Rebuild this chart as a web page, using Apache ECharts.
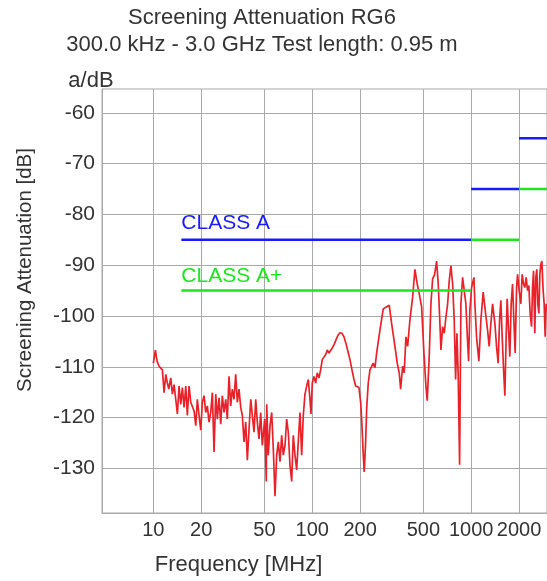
<!DOCTYPE html>
<html>
<head>
<meta charset="utf-8">
<title>Screening Attenuation RG6</title>
<script src="https://cdn.jsdelivr.net/npm/echarts@6/dist/echarts.min.js"></script>
<style>
  html, body { margin: 0; padding: 0; background: #fff; }
  #chart { width: 547px; height: 581px; }
</style>
</head>
<body>
<div id="chart"></div>
<script>
const freqMHz = [
  10.0, 10.3, 10.55, 10.86, 11.13, 11.39, 11.68, 11.97, 12.25, 12.5, 12.86, 13.17, 13.5, 13.83, 14.16, 14.51, 14.87, 15.22, 15.6, 15.99, 16.36, 16.77, 17.19, 17.59, 18.03, 18.48, 18.91, 19.39, 19.87, 20.33, 20.84, 21.36, 21.86, 22.4, 22.96, 23.5, 24.09, 24.69, 25.26, 25.9, 26.54, 27.16, 27.84, 28.53, 29.2, 29.93, 30.67, 31.39, 32.17, 32.97, 33.75, 34.59, 35.46, 36.29, 37.19, 38.12, 39.02, 40.0, 41.0, 41.95, 43.0, 44.06, 45.1, 46.22, 47.36, 48.47, 50.18, 51.36,
  51.67, 52.88, 54.2, 55.55, 56.84, 58.26, 59.72, 61.12, 62.65, 64.2, 65.71, 67.35, 69.02, 70.65, 72.39, 74.2, 75.94, 77.84, 79.77, 81.64, 83.68, 85.77, 87.78, 89.96, 92.22, 94.37, 96.72, 98.13, 100.0, 102.5, 105.0, 107.5, 110.2, 112.9, 115.6, 118.5, 121.4, 124.3, 127.4, 130.6, 133.6, 136.9, 141.0, 145.1, 149.4, 153.8, 158.3, 162.9, 167.7, 172.7, 177.7, 183.0, 187.5, 191.9, 196.7, 201.6, 205.4, 209.4, 212.3, 216.7, 219.9, 225.0, 230.7,
  236.4, 241.9, 248.0, 254.1, 266.6, 279.6, 293.7, 305.0, 315.8, 331.3, 342.5, 352.6, 359.8, 370.4, 379.0, 388.5, 398.1, 411.6, 428.1, 442.5, 457.5, 471.0, 487.7, 504.2, 519.0, 528.9, 544.4, 558.0, 571.9, 588.8, 606.1, 620.4, 635.8, 645.1, 661.2, 676.7, 693.6, 710.9, 727.5, 745.6, 764.2, 782.1, 798.1, 813.3, 828.7, 845.6, 861.7, 883.2, 903.6, 926.2, 943.7, 963.0, 981.3, 1006, 1040,
  1055, 1081, 1118, 1151, 1190, 1232, 1268, 1298, 1330, 1363, 1410, 1444, 1478, 1509, 1537, 1567, 1599, 1629, 1660, 1684, 1719, 1751, 1785, 1821, 1856, 1891, 1930, 1958, 2004, 2054, 2093, 2136, 2176, 2218, 2263, 2306, 2350, 2398, 2433, 2469, 2515, 2552, 2589, 2627, 2666, 2705, 2744, 2785, 2837, 2879, 2921, 2963, 2993
];
const attenuationDb = [
  -109.3, -106.7, -108.9, -109.9, -109.6, -110.6, -115.1, -111.5, -113.2, -114.4, -112.2, -115.4, -113.5, -116.4, -119.3, -113.8, -117.4, -114.1, -118.0, -113.8, -119.6, -113.8, -117.0, -116.7, -118.7, -121.6, -116.4, -119.6, -122.5, -117.0, -115.7, -119.0, -117.7, -120.9, -119.0, -115.1, -126.8, -115.4, -120.3, -116.1, -121.3, -115.7, -119.0, -116.4, -120.3, -111.9, -117.7, -114.4, -116.4, -111.5, -117.0, -114.4, -118.0, -119.6, -124.8, -120.9, -128.4, -122.2, -116.4, -119.6, -122.9, -116.4, -120.9, -124.2, -119.0, -125.5, -120.3, -132.6,
  -117.4, -127.4, -121.6, -119.0, -126.1, -135.5, -127.4, -124.8, -128.7, -123.5, -127.4, -125.5, -120.3, -122.9, -129.4, -132.6, -123.5, -127.4, -130.3, -124.8, -119.0, -127.4, -119.6, -115.4, -113.8, -112.5, -116.4, -119.3, -113.2, -111.9, -113.2, -111.2, -112.2, -110.6, -108.6, -108.3, -107.6, -106.7, -107.3, -107.6, -106.3, -105.7, -104.7, -103.8, -103.3, -103.4, -104.1, -105.4, -107.0, -108.6, -110.6, -112.5, -113.8, -113.5, -114.1, -117.0, -121.6, -127.4, -130.7, -124.8, -118.3, -113.2, -110.6,
  -110.6, -109.3, -110.2, -107.3, -102.8, -98.6, -98.2, -97.9, -101.5, -106.0, -109.3, -111.2, -114.4, -109.9, -111.2, -104.1, -106.0, -100.8, -96.3, -90.8, -93.7, -95.6, -98.2, -107.3, -113.8, -116.7, -108.0, -97.6, -92.7, -91.8, -89.2, -93.7, -101.5, -106.7, -102.1, -103.4, -100.2, -97.6, -93.1, -90.1, -93.7, -100.8, -112.5, -103.4, -111.8, -129.3, -97.6, -92.4, -92.1, -97.6, -103.4, -108.9, -98.9, -94.4, -92.4,
  -97.6, -104.1, -108.9, -100.8, -95.3, -99.5, -102.8, -106.0, -101.5, -97.6, -101.5, -106.0, -109.3, -100.8, -96.9, -104.1, -110.6, -115.7, -104.1, -96.6, -102.8, -108.0, -97.6, -93.7, -100.8, -107.3, -94.4, -91.8, -95.0, -97.6, -91.8, -93.7, -94.4, -92.4, -95.0, -94.0, -99.5, -102.1, -94.4, -91.1, -103.4, -92.4, -90.8, -97.6, -99.5, -91.8, -89.8, -89.2, -95.0, -97.6, -104.1, -97.6, -99.0
];

// limit classes: band edges (MHz) and level per band (dB)
const limitEdgesMHz = [15, 1000, 2000, 3000];
const classADb = [-85, -75, -65];
const classAPlusDb = [-95, -85, -75];

const freqTicks = [10, 20, 50, 100, 200, 500, 1000, 2000];
const dbTicks = [-60, -70, -80, -90, -100, -110, -120, -130];

const FONT = '"Liberation Sans", Arial, Helvetica, sans-serif';
const TEXT = '#333';
const GRID = '#a9a9a9';

function stepLine(edges, levels, name, color, dy) {
  const pts = [];
  levels.forEach((v, i) => {
    if (i > 0) pts.push([edges[i], '-']);
    pts.push([edges[i], v], [edges[i + 1], v]);
  });
  pts[0] = {
    value: pts[0],
    label: {
      show: true, formatter: name, position: [0, dy],
      align: 'left', verticalAlign: 'middle',
      color: color, fontSize: 21, fontFamily: FONT
    }
  };
  return pts;
}

const chart = echarts.init(document.getElementById('chart'));

chart.setOption({
  animation: false,
  backgroundColor: '#fff',
  title: {
    text: 'Screening Attenuation RG6',
    subtext: '300.0 kHz - 3.0 GHz Test length: 0.95 m',
    left: 262, top: 5, padding: 0, itemGap: 1,
    textAlign: 'center', textVerticalAlign: 'top',
    textStyle: { fontSize: 22, fontWeight: 'normal', color: TEXT, fontFamily: FONT, lineHeight: 26 },
    subtextStyle: { fontSize: 22, color: TEXT, fontFamily: FONT, lineHeight: 26 }
  },
  grid: {
    left: 102, right: 0, top: 89, bottom: 62,
    show: true, borderColor: GRID, borderWidth: 1
  },
  xAxis: {
    type: 'log',
    logBase: 10,
    min: 4.75,
    max: 3000,
    name: 'Frequency [MHz]',
    nameLocation: 'middle',
    nameGap: 41,
    nameTextStyle: { fontSize: 22, color: TEXT, fontFamily: FONT, padding: [0, 172, 0, 0] },
    axisLine: { show: true, lineStyle: { color: GRID, width: 1 } },
    axisTick: { show: false, customValues: freqTicks },
    axisLabel: {
      customValues: freqTicks, margin: 7, hideOverlap: false,
      formatter: v => String(v),
      fontSize: 20, color: TEXT, fontFamily: FONT
    },
    splitLine: { show: true, lineStyle: { color: GRID, width: 1 } }
  },
  yAxis: {
    type: 'value',
    min: -138.8,
    max: -55.3,
    name: 'a/dB',
    nameLocation: 'end',
    nameGap: -3,
    nameTextStyle: { fontSize: 22, color: TEXT, fontFamily: FONT, align: 'center', padding: [0, 22, 0, 0] },
    axisLine: { show: true, lineStyle: { color: GRID, width: 1 } },
    axisTick: { show: false, customValues: dbTicks },
    axisLabel: { customValues: dbTicks, margin: 7, fontSize: 21, color: TEXT, fontFamily: FONT },
    splitLine: { show: true, lineStyle: { color: GRID, width: 1 } }
  },
  graphic: [{
    type: 'text',
    x: 25, y: 270,
    rotation: Math.PI / 2,
    style: {
      text: 'Screening Attenuation [dB]',
      font: '20.5px ' + FONT,
      fill: TEXT,
      textAlign: 'center',
      textVerticalAlign: 'middle'
    }
  }],
  series: [
    {
      name: 'RG6',
      type: 'line',
      data: freqMHz.map((f, i) => [f, attenuationDb[i]]),
      showSymbol: false,
      lineStyle: { color: '#e8222a', width: 1.7 },
      itemStyle: { color: '#e8222a' },
      z: 2
    },
    {
      name: 'CLASS A',
      type: 'line',
      data: stepLine(limitEdgesMHz, classADb, 'CLASS A', '#1a1aff', -17),
      symbol: 'circle', symbolSize: 0, showSymbol: true,
      lineStyle: { color: '#1a1aff', width: 2.5 },
      itemStyle: { color: '#1a1aff' },
      z: 3
    },
    {
      name: 'CLASS A+',
      type: 'line',
      data: stepLine(limitEdgesMHz, classAPlusDb, 'CLASS A+', '#1ee61e', -14),
      symbol: 'circle', symbolSize: 0, showSymbol: true,
      lineStyle: { color: '#1ee61e', width: 2.5 },
      itemStyle: { color: '#1ee61e' },
      z: 4
    }
  ]
});
</script>
</body>
</html>
